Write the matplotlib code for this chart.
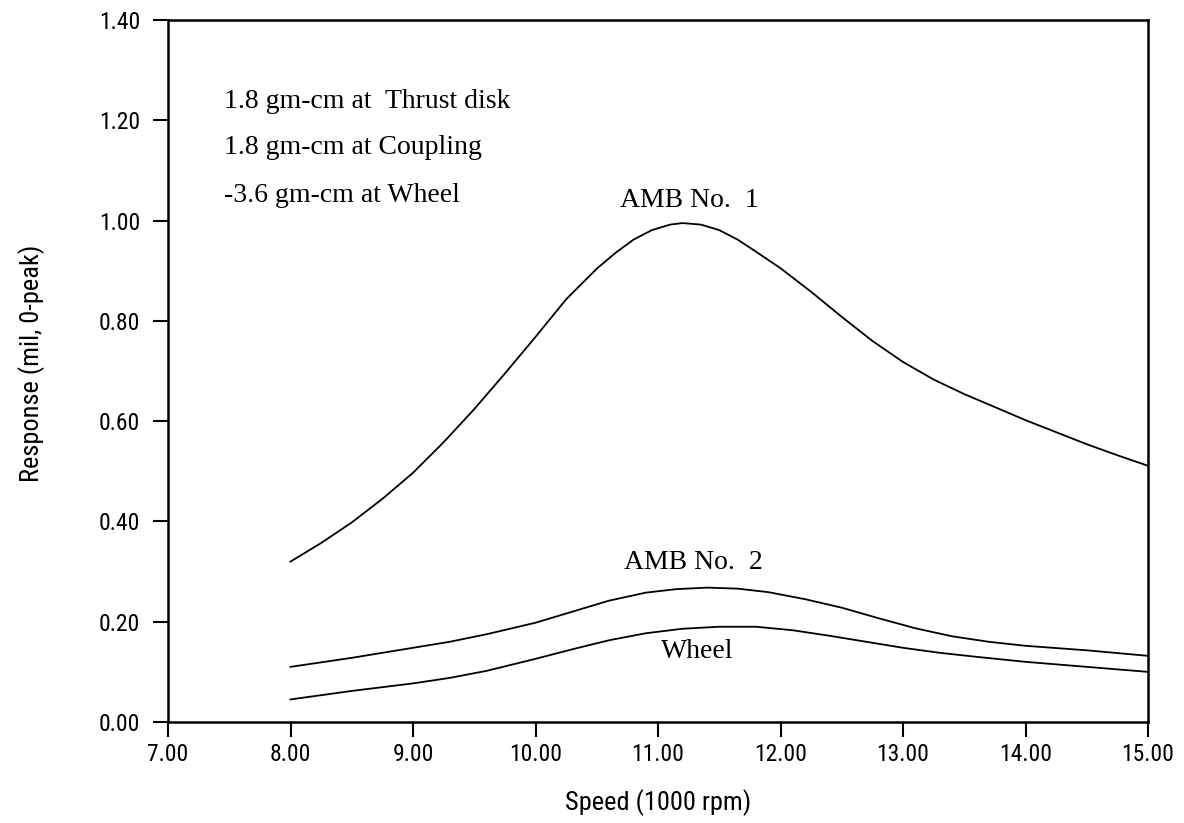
import numpy as np
import matplotlib
matplotlib.use("Agg")
import matplotlib.pyplot as plt
from matplotlib import font_manager

# speed in 1000 rpm, response in mil 0-peak
amb1_speed = [8.0, 8.25, 8.5, 8.75, 9.0, 9.25, 9.5, 9.75, 10.0, 10.25, 10.5, 10.65,
              10.8, 10.95, 11.1, 11.2, 11.35, 11.5, 11.65, 11.8, 12.0, 12.25, 12.5,
              12.75, 13.0, 13.25, 13.5, 13.75, 14.0, 14.25, 14.5, 14.75, 15.0]
amb1_resp = [0.320, 0.357, 0.398, 0.445, 0.497, 0.558, 0.624, 0.695, 0.768, 0.843,
             0.904, 0.935, 0.962, 0.981, 0.992, 0.995, 0.992, 0.981, 0.962, 0.938,
             0.905, 0.858, 0.808, 0.760, 0.718, 0.683, 0.654, 0.628, 0.602, 0.578,
             0.554, 0.532, 0.511]

amb2_speed = [8.0, 8.5, 9.0, 9.3, 9.6, 10.0, 10.3, 10.6, 10.9, 11.15, 11.4, 11.65,
              11.9, 12.2, 12.5, 12.8, 13.1, 13.4, 13.7, 14.0, 14.5, 15.0]
amb2_resp = [0.110, 0.128, 0.148, 0.160, 0.175, 0.198, 0.220, 0.242, 0.258, 0.265,
             0.268, 0.266, 0.259, 0.245, 0.228, 0.207, 0.187, 0.171, 0.160, 0.152,
             0.143, 0.132]

wheel_speed = [8.0, 8.5, 9.0, 9.3, 9.6, 10.0, 10.3, 10.6, 10.9, 11.2, 11.5, 11.8,
               12.1, 12.4, 12.7, 13.0, 13.3, 13.6, 14.0, 14.5, 15.0]
wheel_resp = [0.045, 0.062, 0.077, 0.088, 0.102, 0.126, 0.145, 0.163, 0.177, 0.186,
              0.190, 0.190, 0.183, 0.172, 0.160, 0.148, 0.138, 0.130, 0.120, 0.110,
              0.100]

x_ticks = [7, 8, 9, 10, 11, 12, 13, 14, 15]
y_ticks = [0.0, 0.2, 0.4, 0.6, 0.8, 1.0, 1.2, 1.4]

notes = ["1.8 gm-cm at  Thrust disk", "1.8 gm-cm at Coupling", "-3.6 gm-cm at Wheel"]

# narrow sans for the axes, if one is there
names = {f.name for f in font_manager.fontManager.ttflist}
narrow = None
for cand in ['Liberation Sans Narrow', 'DejaVu Sans Condensed', 'Roboto Condensed',
             'Open Sans Condensed']:
    if cand in names:
        narrow = cand
        break
if narrow:
    sans = [narrow, 'DejaVu Sans']
    tick_fs, lab_fs = 17, 19
else:
    sans = ['Liberation Sans', 'DejaVu Sans']
    tick_fs, lab_fs = 15, 17
serif = ['Liberation Serif', 'DejaVu Serif']

fig = plt.figure(figsize=(11.84, 8.23), dpi=100)
ax = fig.add_axes([0.1419, 0.1227, 0.8277, 0.853])

for xs, ys in [(amb1_speed, amb1_resp), (amb2_speed, amb2_resp), (wheel_speed, wheel_resp)]:
    ax.plot(xs, ys, color='black', lw=1.3)

ax.set_xlim(7, 15)
ax.set_ylim(0, 1.4)
ax.set_xticks(x_ticks)
ax.set_yticks(y_ticks)
ax.set_xticklabels([f"{v:.2f}" for v in x_ticks], family=sans, fontsize=tick_fs)
ax.set_yticklabels([f"{v:.2f}" for v in y_ticks], family=sans, fontsize=tick_fs)
ax.tick_params(direction='out', length=11, width=1.5)
ax.tick_params(axis='x', pad=4)
ax.tick_params(axis='y', pad=9)
for s in ax.spines.values():
    s.set_linewidth(1.8)

ax.set_xlabel("Speed (1000 rpm)", family=sans, fontsize=lab_fs)
ax.set_ylabel("Response (mil, 0-peak)", family=sans, fontsize=lab_fs)
ax.xaxis.label.set_va('center')
ax.xaxis.set_label_coords(0.5, -0.115)
ax.yaxis.set_label_coords(-0.1255, 0.511)

for txt, yv in zip(notes, [1.237, 1.145, 1.051]):
    ax.text(7.46, yv, txt, family=serif, fontsize=20, ha='left', va='center')

ax.text(11.26, 1.041, "AMB No.  1", family=serif, fontsize=20, ha='center', va='center')
ax.text(11.29, 0.319, "AMB No.  2", family=serif, fontsize=20, ha='center', va='center')
ax.text(11.32, 0.140, "Wheel", family=serif, fontsize=20, ha='center', va='center')

fig.savefig("out.png", dpi=100)
